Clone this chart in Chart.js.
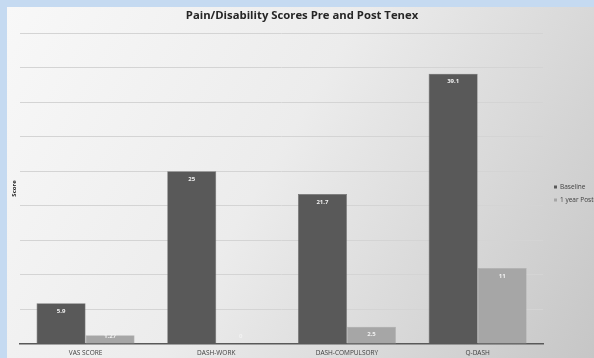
<!DOCTYPE html>
<html><head><meta charset="utf-8">
<script src="https://cdn.jsdelivr.net/npm/chart.js@4"></script>
<style>html,body{margin:0;padding:0;background:#c5daf1;}#wrap{width:594px;height:358px;position:relative;}</style>
</head><body><div id="wrap"><canvas id="c" width="594" height="358"></canvas></div>
<script>
const categories = ["VAS SCORE", "DASH-WORK", "DASH-COMPULSORY", "Q-DASH"];
const baseline = [5.9, 25, 21.7, 39.1];
const postop = [1.27, 0, 2.5, 11];
const seriesNames = ["Baseline", "1 year Postop"];
const valueLabels = [["5.9", "25", "21.7", "39.1"], ["1.27", "0", "2.5", "11"]];
const yTicks = [0, 5, 10, 15, 20, 25, 30, 35, 40, 45];

const FONT = "'Open Sans', 'Noto Sans', sans-serif";

const bgPlugin = {
  id: 'bg',
  beforeDraw(chart) {
    const ctx = chart.ctx, w = chart.width, h = chart.height;
    ctx.save();
    ctx.fillStyle = '#c5daf1';
    ctx.fillRect(0, 0, w, h);
    const g = ctx.createLinearGradient(7, 7, w, h);
    g.addColorStop(0, '#f8f8f8');
    g.addColorStop(0.45, '#ececec');
    g.addColorStop(1, '#c6c6c6');
    ctx.fillStyle = g;
    ctx.fillRect(7, 7, w - 7, h - 7);
    ctx.restore();
  },
  afterDraw(chart) {
    const ctx = chart.ctx;
    ctx.save();
    ctx.fillStyle = '#262626';
    ctx.font = "bold 11.3px " + FONT;
    ctx.textAlign = 'center';
    ctx.textBaseline = 'middle';
    ctx.fillText("Pain/Disability Scores Pre and Post Tenex", 302, 16);
    ctx.font = "bold 6px " + FONT;
    ctx.fillStyle = '#f2f2f2';
    const base = chart.scales.y.getPixelForValue(0);
    chart.data.datasets.forEach((ds, di) => {
      chart.getDatasetMeta(di).data.forEach((el, i) => {
        const y = Math.min(el.y + 8, base - 7.4);
        ctx.fillText(valueLabels[di][i], el.x, y);
      });
    });
    ctx.font = "6.5px " + FONT;
    ctx.textAlign = 'left';
    const ly = [187, 200];
    chart.data.datasets.forEach((ds, di) => {
      ctx.fillStyle = ds.backgroundColor;
      ctx.fillRect(554, ly[di] - 1.5, 3, 3);
      ctx.fillStyle = '#404040';
      ctx.fillText(ds.label, 560, ly[di]);
    });
    ctx.restore();
  }
};

new Chart(document.getElementById('c'), {
  type: 'bar',
  data: {
    labels: categories,
    datasets: [
      { label: seriesNames[0], data: baseline, backgroundColor: '#595959', borderColor: '#6a6a6a', borderWidth: 0.6 },
      { label: seriesNames[1], data: postop, backgroundColor: '#a6a6a6', borderColor: '#b0b0b0', borderWidth: 0.6 }
    ]
  },
  options: {
    responsive: false,
    animation: false,
    layout: { padding: { top: 33, left: 11, right: 51, bottom: -3.7 } },
    datasets: { bar: { categoryPercentage: 0.75, barPercentage: 1 } },
    plugins: { legend: { display: false }, title: { display: false }, tooltip: { enabled: false } },
    scales: {
      x: {
        grid: { display: false, drawTicks: false },
        border: { display: true, color: '#595959', width: 1.5 },
        ticks: { color: '#404040', font: { family: FONT, size: 6.5 }, padding: 5, maxRotation: 0 }
      },
      y: {
        min: 0, max: 45,
        afterBuildTicks: (s) => { s.ticks = yTicks.map(v => ({ value: v })); },
        ticks: { display: false },
        grid: { color: (c) => c.tick && c.tick.value === 0 ? 'rgba(0,0,0,0)' : '#d4d4d4', drawTicks: false, lineWidth: 1 },
        border: { display: false },
        title: { display: true, text: 'Score', color: '#262626', font: { family: FONT, size: 6, weight: 'bold' }, padding: { top: 0, bottom: 2 } }
      }
    }
  },
  plugins: [bgPlugin]
});
</script></body></html>
